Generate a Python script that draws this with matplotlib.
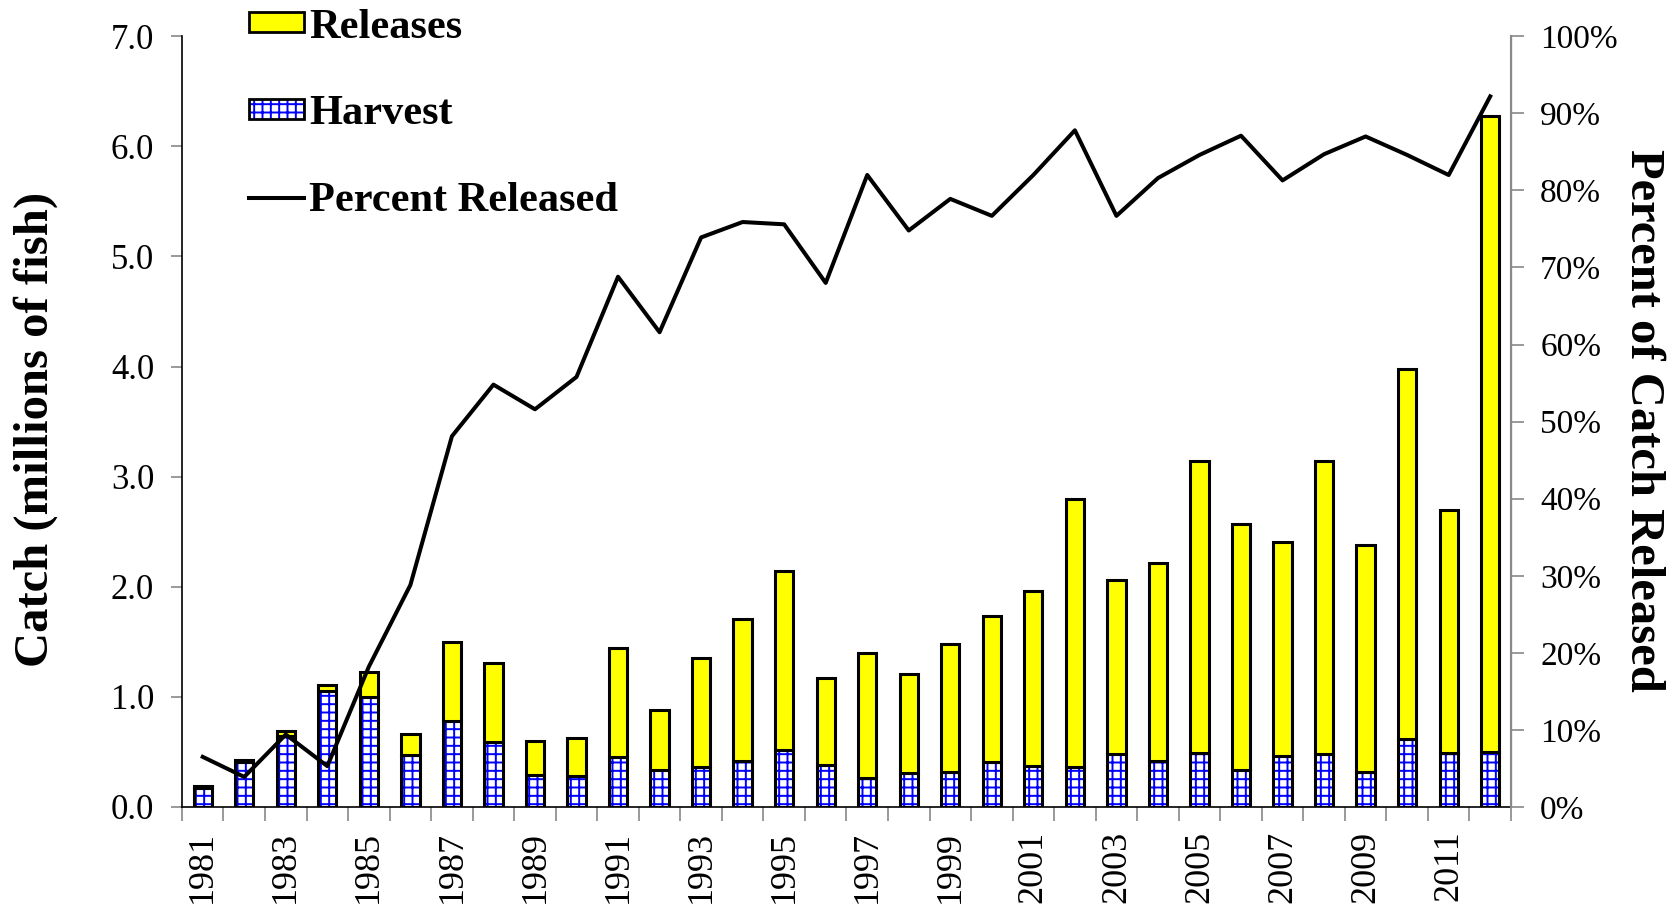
import matplotlib
matplotlib.use("Agg")
from matplotlib import pyplot as plt
from matplotlib.patches import Patch
from matplotlib.lines import Line2D
from matplotlib.legend_handler import HandlerTuple
from matplotlib.ticker import FixedLocator, FuncFormatter
import numpy as np

years = list(range(1981, 2013))

# catch in millions of fish
harvest = [0.17, 0.41, 0.64, 1.05, 1.00, 0.47, 0.78, 0.59, 0.29, 0.28,
           0.45, 0.34, 0.36, 0.42, 0.52, 0.38, 0.26, 0.31, 0.32, 0.41,
           0.37, 0.36, 0.48, 0.42, 0.49, 0.34, 0.46, 0.48, 0.32, 0.62,
           0.49, 0.50]
releases = [0.02, 0.02, 0.05, 0.06, 0.23, 0.19, 0.72, 0.72, 0.31, 0.35,
            0.99, 0.54, 0.99, 1.29, 1.62, 0.79, 1.14, 0.90, 1.16, 1.32,
            1.59, 2.44, 1.58, 1.80, 2.65, 2.23, 1.95, 2.66, 2.06, 3.36,
            2.21, 5.78]
# percent of total catch that was released
pct_released = [6.5, 3.9, 9.4, 5.3, 18.2, 28.8, 48.1, 54.8, 51.6, 55.8,
                68.8, 61.6, 73.9, 75.9, 75.6, 68.0, 82.0, 74.8, 78.9, 76.7,
                82.0, 87.8, 76.7, 81.6, 84.6, 87.1, 81.3, 84.7, 87.0, 84.6,
                82.0, 92.2]

plt.rcParams['font.family'] = ['Liberation Serif', 'DejaVu Serif']
plt.rcParams['hatch.linewidth'] = 1.4

fig = plt.figure(figsize=(16.77, 9.07), dpi=100)
ax = fig.add_axes([0.1085, 0.1103, 0.7925, 0.8497])
ax2 = ax.twinx()

x = np.arange(len(years))
w = 0.44

# harvest: blue grid hatch on white, black outline drawn separately
ax.bar(x, harvest, w, color='white', edgecolor='#0000FF', hatch='++',
       linewidth=0, zorder=2)
ax.bar(x, harvest, w, fill=False, edgecolor='black', linewidth=2.2, zorder=3)
ax.bar(x, releases, w, bottom=harvest, color='#FFFF00', edgecolor='black',
       linewidth=2.2, zorder=3)

ax2.plot(x, pct_released, color='black', linewidth=2.9, zorder=4)

ax.set_xlim(-0.5, len(years) - 0.5)
ax.set_ylim(0, 7.0)
ax2.set_ylim(0, 100)

ax.set_yticks(np.arange(0, 7.01, 1.0))
ax.yaxis.set_major_formatter(FuncFormatter(lambda v, p: f"{v:.1f}"))
ax2.set_yticks(np.arange(0, 101, 10))
ax2.yaxis.set_major_formatter(FuncFormatter(lambda v, p: f"{v:.0f}%"))

ax.set_xticks(x[::2])
ax.set_xticklabels([str(y) for y in years[::2]], rotation=90)
ax.xaxis.set_minor_locator(FixedLocator(np.arange(-0.5, len(years), 1.0)))
ax.tick_params(axis='x', which='major', length=0, pad=17, labelsize=26)
ax.tick_params(axis='x', which='minor', length=10, width=1.2, color='#888888')
ax.tick_params(axis='y', length=8, width=1.2, color='#888888', pad=12,
               labelsize=25)
ax2.tick_params(axis='y', length=9, width=1.2, color='#888888', pad=12,
                labelsize=24)

for a in (ax, ax2):
    a.spines['top'].set_visible(False)
ax.spines['left'].set_color('black')
ax.spines['bottom'].set_color('black')
ax.spines['left'].set_linewidth(1.2)
ax.spines['bottom'].set_linewidth(1.2)
ax2.spines['right'].set_color('#888888')
ax2.spines['right'].set_linewidth(1.5)
ax2.spines['left'].set_visible(False)
ax2.spines['bottom'].set_visible(False)

fig.text(0.021, 0.526, 'Catch (millions of fish)', rotation=90,
         fontsize=35, fontweight='bold', ha='center', va='center')
fig.text(0.980, 0.537, 'Percent of Catch Released', rotation=270,
         fontsize=35, fontweight='bold', ha='center', va='center')

h_rel = Patch(facecolor='#FFFF00', edgecolor='black', linewidth=2.0)
h_harv = (Patch(facecolor='white', edgecolor='#0000FF', hatch='++', linewidth=0),
          Patch(fill=False, edgecolor='black', linewidth=2.0))
h_pct = Line2D([], [], color='black', linewidth=2.9)
leg = ax2.legend([h_rel, h_harv, h_pct],
                 ['Releases', 'Harvest', 'Percent Released'],
                 handler_map={tuple: HandlerTuple(ndivide=1, pad=0)},
                 loc='upper left', bbox_to_anchor=(249 / 1677, 0.9905),
                 bbox_transform=fig.transFigure, frameon=False,
                 prop={'size': 30.5, 'weight': 'bold'},
                 handlelength=1.3, handleheight=0.35, handletextpad=0.12,
                 labelspacing=1.15, borderpad=0, borderaxespad=0)

fig.savefig('out.png', dpi=100)
